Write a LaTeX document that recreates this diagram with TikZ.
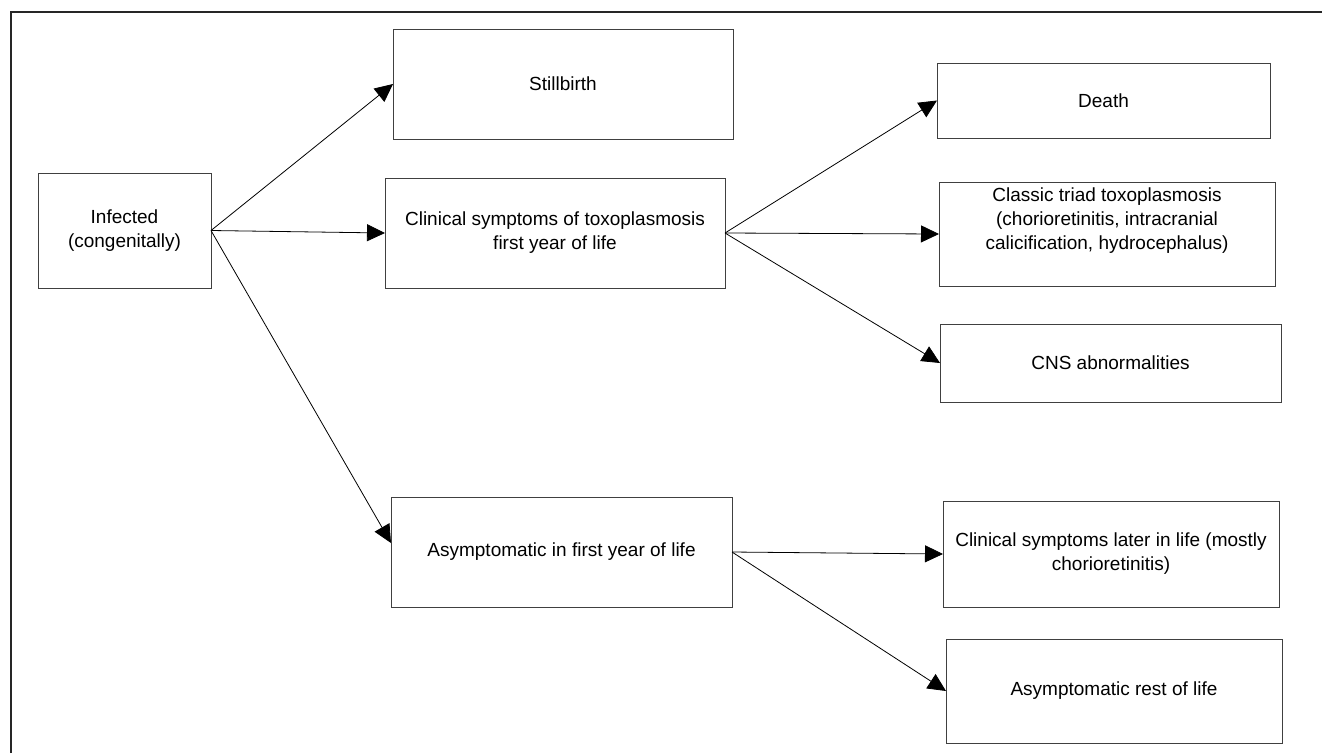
\documentclass[tikz,border=0pt]{standalone}
\usepackage{fontspec}
\setmainfont{Liberation Sans}
\usetikzlibrary{arrows.meta,calc}
\tikzset{
  box/.style={draw=black!75, line width=1pt, rectangle, inner sep=0pt, outer sep=0pt,
    align=center, font=\fontsize{19}{24}\selectfont, text=black},
  conn/.style={draw=black, line width=0.8pt, -{Triangle[length=18pt,width=17pt]}},
  frameline/.style={draw=black!85, line width=2.2pt}
}
\begin{document}
\begin{tikzpicture}[x=1pt,y=-1pt]
\useasboundingbox (0,0) rectangle (1322,753);
\fill[white] (0,0) rectangle (1322,753);
\coordinate (fbl) at (11,753);
\coordinate (ftl) at (11,12);
\coordinate (ftr) at (1322,12);
\draw[frameline] (fbl) -- (ftl) -- (ftr);

\node[box, minimum width=173pt, minimum height=115pt] (inf) at (124.5,230.5) {Infected\\(congenitally)};
\node[box, minimum width=340pt, minimum height=110pt] (still) at (563,84) {Stillbirth};
\node[box, minimum width=340pt, minimum height=110pt] (clin) at (555,233) {Clinical symptoms of toxoplasmosis\\first year of life};
\node[box, minimum width=341pt, minimum height=110pt] (asym) at (561.5,552) {Asymptomatic in first year of life};
\node[box, minimum width=333pt, minimum height=75pt] (death) at (1103.5,100.5) {Death};
\node[box, minimum width=336pt, minimum height=104pt] (triad) at (1107,234) {Classic triad toxoplasmosis\\(chorioretinitis, intracranial\\calicification, hydrocephalus)\\\strut};
\node[box, minimum width=341pt, minimum height=78pt] (cns) at (1110.5,363) {CNS abnormalities};
\node[box, minimum width=336pt, minimum height=106pt] (later) at (1111,554) {Clinical symptoms later in life (mostly\\chorioretinitis)};
\node[box, minimum width=336pt, minimum height=104pt] (rest) at (1114,691) {Asymptomatic rest of life};

\draw[conn] (inf.east) -- (still.west);
\draw[conn] (inf.east) -- (clin.west);
\draw[conn] (inf.east) -- ($(asym.west)+(0,-9)$);
\draw[conn] (clin.east) -- (death.west);
\draw[conn] (clin.east) -- (triad.west);
\draw[conn] (clin.east) -- (cns.west);
\draw[conn] (asym.east) -- (later.west);
\draw[conn] (asym.east) -- (rest.west);
\end{tikzpicture}
\end{document}
